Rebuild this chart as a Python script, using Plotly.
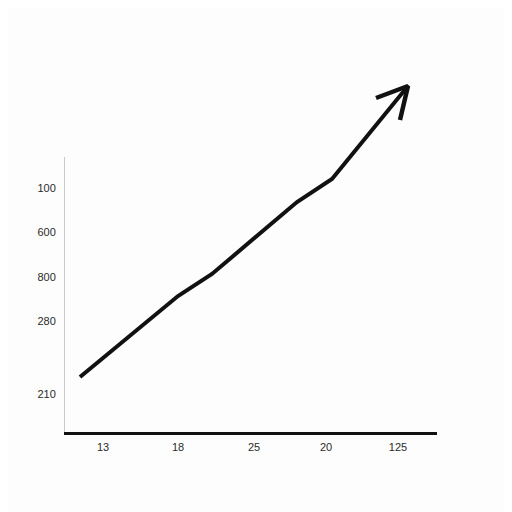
import plotly.graph_objects as go

# line points, in the chart's own units (x right, y up)
line_x = [80, 178, 212, 297, 332, 408]
line_y = [135, 216, 238, 310, 333, 426]

# arrow head: left wing -> tip -> lower wing
head_x = [376, 408, 400]
head_y = [414, 426, 392]

x_tickvals = [103, 178, 254, 326, 398]
x_ticktext = ["13", "18", "25", "20", "125"]
y_tickvals = [324, 280, 235, 191, 118]
y_ticktext = ["100", "600", "800", "280", "210"]

ink = "#111111"
fig = go.Figure()
fig.add_trace(go.Scatter(x=line_x, y=line_y, mode="lines",
                         line=dict(color=ink, width=4, shape="linear"),
                         hoverinfo="skip"))
fig.add_trace(go.Scatter(x=head_x, y=head_y, mode="lines",
                         line=dict(color=ink, width=4.5),
                         hoverinfo="skip"))

# thin left axis, only as tall as the labelled part
fig.add_shape(type="line", x0=64, x1=64, y0=80, y1=355,
              line=dict(color="#9a9a9a", width=1))

# the page body adds an 8px offset, so margins are shifted to compensate
fig.update_layout(
    width=512, height=512,
    margin=dict(l=56, r=83, t=12, b=88),
    paper_bgcolor="#fdfdfd", plot_bgcolor="#fdfdfd",
    showlegend=False,
    font=dict(family="Liberation Sans, Arial, sans-serif", size=11, color="#2a2a2a"),
    xaxis=dict(range=[64, 437], showgrid=False, zeroline=False,
               showline=True, linecolor=ink, linewidth=3,
               tickvals=x_tickvals, ticktext=x_ticktext,
               ticks="outside", ticklen=3, tickcolor="rgba(0,0,0,0)"),
    yaxis=dict(range=[80, 492], showgrid=False, zeroline=False,
               showline=False,
               tickvals=y_tickvals, ticktext=y_ticktext,
               ticks="outside", ticklen=5, tickcolor="rgba(0,0,0,0)"),
)

fig.write_html("out.html")
